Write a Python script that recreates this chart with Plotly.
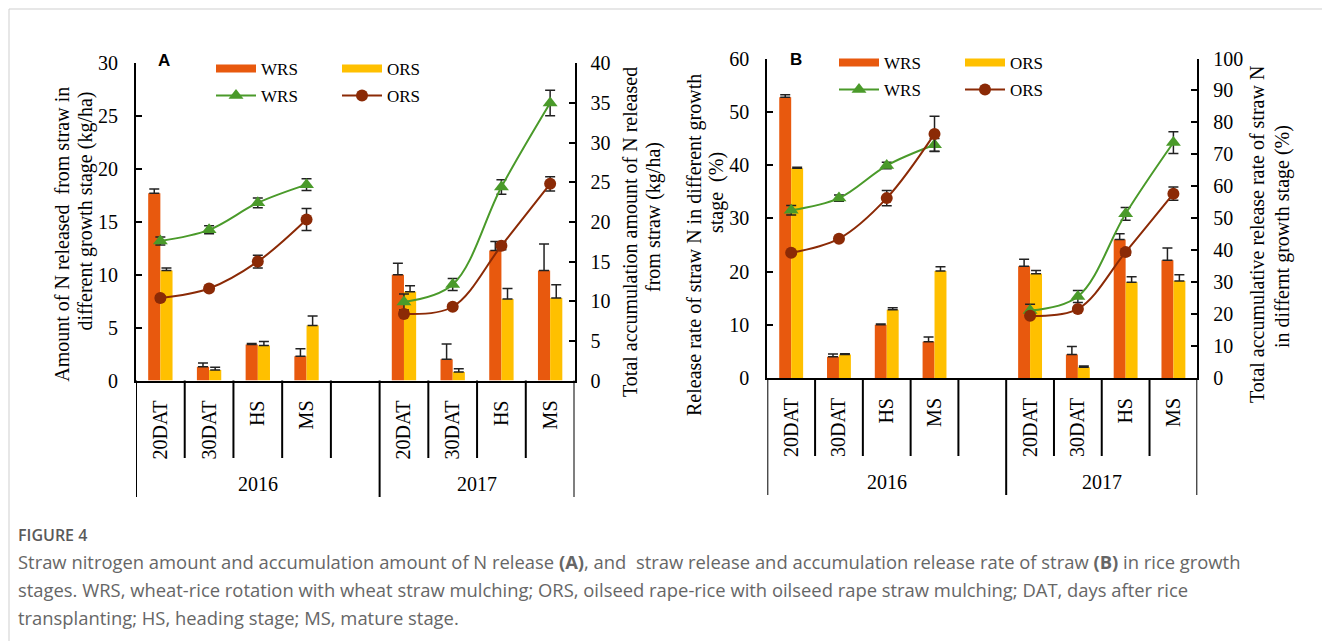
import plotly.graph_objects as go

# ---- data ---------------------------------------------------------------
stages = ["20DAT", "30DAT", "HS", "MS"]
years = ["2016", "2017"]

# Panel A: N released from straw in each stage (kg/ha) -- bars, left axis
a_wrs_bar = [17.7, 1.3, 3.4, 2.3, 10.0, 2.0, 12.3, 10.4]
a_wrs_bar_err = [0.4, 0.35, 0.1, 0.7, 1.1, 1.45, 0.85, 2.5]
a_ors_bar = [10.4, 1.0, 3.3, 5.2, 8.4, 0.8, 7.7, 7.8]
a_ors_bar_err = [0.25, 0.25, 0.4, 0.9, 0.55, 0.3, 1.0, 1.25]
# Panel A: total accumulated N released (kg/ha) -- lines, right axis
a_wrs_cum = [17.6, 19.0, 22.4, 24.7, 9.9, 12.1, 24.4, 35.0]
a_wrs_cum_err = [0.5, 0.5, 0.6, 0.75, 1.0, 0.75, 0.9, 1.6]
a_ors_cum = [10.4, 11.6, 15.0, 20.3, 8.4, 9.3, 17.0, 24.8]
a_ors_cum_err = [0.3, 0.3, 0.8, 1.4, 0.3, 0.3, 0.5, 0.9]

# Panel B: release rate of straw N in each stage (%) -- bars, left axis
b_wrs_bar = [52.7, 4.0, 10.0, 6.8, 21.0, 4.4, 26.0, 22.1]
b_wrs_bar_err = [0.5, 0.5, 0.15, 0.9, 1.3, 1.5, 1.1, 2.3]
b_ors_bar = [39.4, 4.4, 12.8, 20.1, 19.6, 2.0, 18.0, 18.2]
b_ors_bar_err = [0.2, 0.15, 0.4, 0.8, 0.6, 0.25, 1.0, 1.2]
# Panel B: total accumulative release rate (%) -- lines, right axis
b_wrs_cum = [52.5, 56.3, 66.5, 73.0, 21.1, 25.5, 51.4, 73.7]
b_wrs_cum_err = [1.5, 1.0, 1.0, 2.0, 2.0, 1.9, 2.0, 3.4]
b_ors_cum = [39.2, 43.6, 56.3, 76.4, 19.5, 21.6, 39.4, 57.7]
b_ors_cum_err = [0.5, 0.5, 2.4, 5.5, 0.5, 0.5, 1.0, 2.1]

# ---- styling ------------------------------------------------------------
W, H = 1322, 641
C_WRS_BAR = "#E8590E"
C_ORS_BAR = "#FFC000"
C_WRS_LINE = "#4A9A2A"
C_ORS_LINE = "#8B2A06"
C_ERR = "#222222"
SERIF = "Liberation Serif"

n = len(stages)
slot = n + 1  # one empty slot after each year's group
pos = [k * slot + i for k in range(len(years)) for i in range(n)]
ticktext = stages * len(years)


def px_x(v):
    return v / W


def px_y(v):
    return 1 - v / H


def with_gaps(values):
    """Insert a break between years so each year's line is drawn separately."""
    xs, ys = [], []
    for k in range(len(years)):
        xs += pos[k * n:(k + 1) * n] + [None]
        ys += values[k * n:(k + 1) * n] + [None]
    return xs[:-1], ys[:-1]


fig = go.Figure()


def add_panel(xa, ya_left, ya_right, lg_bar, lg_line,
              wrs_bar, wrs_bar_err, ors_bar, ors_bar_err,
              wrs_cum, wrs_cum_err, ors_cum, ors_cum_err):
    for vals, errs, col, name in [(wrs_bar, wrs_bar_err, C_WRS_BAR, "WRS"),
                                  (ors_bar, ors_bar_err, C_ORS_BAR, "ORS")]:
        fig.add_trace(go.Bar(
            x=pos, y=vals, name=name, marker=dict(color=col, line=dict(width=0)),
            xaxis=xa, yaxis=ya_left, showlegend=False,
            error_y=dict(type="data", array=errs, arrayminus=[0] * len(errs),
                         symmetric=False, color=C_ERR, thickness=1.5, width=5)))
        # legend swatch for the bar series
        fig.add_trace(go.Scatter(
            x=[None], y=[None], mode="lines", name=name, legend=lg_bar,
            line=dict(color=col, width=8), xaxis=xa, yaxis=ya_left))
    for vals, errs, col, sym, size, name in [
            (wrs_cum, wrs_cum_err, C_WRS_LINE, "triangle-up", 13, "WRS"),
            (ors_cum, ors_cum_err, C_ORS_LINE, "circle", 12, "ORS")]:
        xs, ys = with_gaps(vals)
        _, es = with_gaps(errs)
        fig.add_trace(go.Scatter(
            x=xs, y=ys, mode="lines+markers", name=name, legend=lg_line,
            connectgaps=False, xaxis=xa, yaxis=ya_right,
            line=dict(color=col, width=2, shape="spline", smoothing=1),
            marker=dict(symbol=sym, size=size, color=col),
            error_y=dict(type="data", array=es, color=C_ERR,
                         thickness=1.5, width=5)))


add_panel("x", "y", "y2", "legend", "legend2",
          a_wrs_bar, a_wrs_bar_err, a_ors_bar, a_ors_bar_err,
          a_wrs_cum, a_wrs_cum_err, a_ors_cum, a_ors_cum_err)
add_panel("x2", "y3", "y4", "legend3", "legend4",
          b_wrs_bar, b_wrs_bar_err, b_ors_bar, b_ors_bar_err,
          b_wrs_cum, b_wrs_cum_err, b_ors_cum, b_ors_cum_err)

# ---- axes ---------------------------------------------------------------
tickfont = dict(family=SERIF, size=20, color="black")
xrange = [-0.5, len(years) * slot - 1.5]


def yax(domain, rng, dtick, side, overlay=None, anchor=None):
    d = dict(domain=domain, range=rng, dtick=dtick, tick0=0, side=side,
             ticks="inside", ticklen=6, tickwidth=2, tickcolor="black",
             showline=True, linewidth=2, linecolor="black",
             showgrid=False, zeroline=False, tickfont=tickfont,
             ticklabelstandoff=12 if side == "left" else 10, fixedrange=True)
    if overlay:
        d["overlaying"] = overlay
    if anchor:
        d["anchor"] = anchor
    return d


def xax(domain, anchor):
    return dict(domain=domain, range=xrange, anchor=anchor,
                tickvals=pos, ticktext=ticktext, tickangle=-90,
                ticks="", showline=True, linewidth=2, linecolor="black",
                showgrid=False, zeroline=False, tickfont=tickfont,
                ticklabelstandoff=10, fixedrange=True)


A_L, A_R, A_T, A_B = 136, 574.5, 63.3, 380.5
B_L, B_R, B_T, B_B = 767.3, 1197.3, 58.5, 378

fig.update_layout(
    xaxis=xax([px_x(A_L), px_x(A_R)], "y"),
    yaxis=yax([px_y(A_B), px_y(A_T)], [0, 30], 5, "left", anchor="x"),
    yaxis2=yax([px_y(A_B), px_y(A_T)], [0, 40], 5, "right", overlay="y", anchor="x"),
    xaxis2=xax([px_x(B_L), px_x(B_R)], "y3"),
    yaxis3=yax([px_y(B_B), px_y(B_T)], [0, 60], 10, "left", anchor="x2"),
    yaxis4=yax([px_y(B_B), px_y(B_T)], [0, 100], 10, "right", overlay="y3", anchor="x2"),
)


def legend_at(x, y):
    return dict(orientation="h", x=px_x(x), y=px_y(y), xanchor="left",
                yanchor="middle", xref="paper", yref="paper",
                font=dict(family=SERIF, size=17, color="black"),
                itemwidth=40, entrywidth=71, entrywidthmode="pixels",
                bgcolor="rgba(0,0,0,0)", borderwidth=0, tracegroupgap=0)


fig.update_layout(
    legend=legend_at(211, 69),
    legend2=legend_at(211, 96),
    legend3=legend_at(834, 63),
    legend4=legend_at(834, 90),
)

# ---- category dividers and year labels ------------------------------------
# short dividers between stages, long dividers at the ends and between years
shapes = []
year_bounds = [k * slot - 0.5 for k in range(1, len(years))]
for xa_ref, top, ys, yl in [("x", A_B, 458, 497), ("x2", B_B, 456, 495)]:
    bounds = [b - 0.5 for b in range(int(xrange[1] + 1.5))]
    for b in bounds:
        long_line = (b == xrange[0] or b == xrange[1]
                     or any(abs(b - yb) < 1e-9 for yb in year_bounds))
        shapes.append(dict(type="line", xref=xa_ref, yref="paper",
                           x0=b, x1=b, y0=px_y(top), y1=px_y(yl if long_line else ys),
                           line=dict(color="black", width=2)))

# light frame around the figure
shapes.append(dict(type="line", xref="paper", yref="paper", x0=px_x(9), x1=1,
                   y0=px_y(9), y1=px_y(9), line=dict(color="#cfcfcf", width=1)))
shapes.append(dict(type="line", xref="paper", yref="paper", x0=px_x(9), x1=px_x(9),
                   y0=px_y(9), y1=0, line=dict(color="#cfcfcf", width=1)))

annotations = []
for xa_ref, yy in [("x", 484), ("x2", 482)]:
    for k, yr in enumerate(years):
        start = k * slot - 0.5
        end = start + (slot if k < len(years) - 1 else n)
        annotations.append(dict(text=yr, xref=xa_ref, yref="paper",
                                x=(start + end) / 2, y=px_y(yy),
                                showarrow=False, xanchor="center", yanchor="middle",
                                font=dict(family=SERIF, size=20, color="black")))

# panel letters
for letter, x, y in [("A", 163.5, 60.5), ("B", 796, 59.5)]:
    annotations.append(dict(text=f"<b>{letter}</b>", xref="paper", yref="paper",
                            x=px_x(x), y=px_y(y), showarrow=False,
                            xanchor="center", yanchor="middle",
                            font=dict(family="Liberation Sans", size=17, color="black")))

# axis titles (rotated, two lines each)
titles = [
    ("Amount of N released  from straw in", 61.7, 234),
    ("different growth stage (kg/ha)", 85, 211.5),
    ("Total accumulation amount of N released", 630, 232),
    ("from straw (kg/ha)", 653, 217),
    ("Release rate of straw N in different growth", 695, 245),
    ("stage  (%)", 717, 193),
    ("Total accumulative release rate of straw N", 1257, 235),
    ("in differnt growth stage (%)", 1282, 237),
]
for txt, x, y in titles:
    annotations.append(dict(text=txt.replace("  ", " &nbsp;"), xref="paper", yref="paper",
                            x=px_x(x), y=px_y(y), textangle=-90, showarrow=False,
                            xanchor="center", yanchor="middle",
                            font=dict(family=SERIF, size=20, color="black")))

# figure caption
annotations.append(dict(text="FIGURE 4", xref="paper", yref="paper",
                        x=px_x(16), y=px_y(535), showarrow=False,
                        xanchor="left", yanchor="middle",
                        font=dict(family="Open Sans", size=16, weight=600, color="#5a5a5a")))
caption = [
    "Straw nitrogen amount and accumulation amount of N release <b>(A)</b>, and &nbsp;straw "
    "release and accumulation release rate of straw <b>(B)</b> in rice growth",
    "stages. WRS, wheat-rice rotation with wheat straw mulching; ORS, oilseed rape-rice "
    "with oilseed rape straw mulching; DAT, days after rice",
    "transplanting; HS, heading stage; MS, mature stage.",
]
for i, line in enumerate(caption):
    annotations.append(dict(text=line, xref="paper", yref="paper",
                            x=px_x(16), y=px_y(561 + 28 * i), showarrow=False,
                            xanchor="left", yanchor="middle",
                            font=dict(family="Open Sans", size=18.4, color="#666666")))

fig.update_layout(
    width=W, height=H,
    margin=dict(l=0, r=0, t=0, b=0, autoexpand=False),
    paper_bgcolor="white", plot_bgcolor="white",
    barmode="group", bargap=0.5, bargroupgap=0,
    shapes=shapes, annotations=annotations,
    font=dict(family=SERIF, color="black"),
)

fig.write_html("out.html")
